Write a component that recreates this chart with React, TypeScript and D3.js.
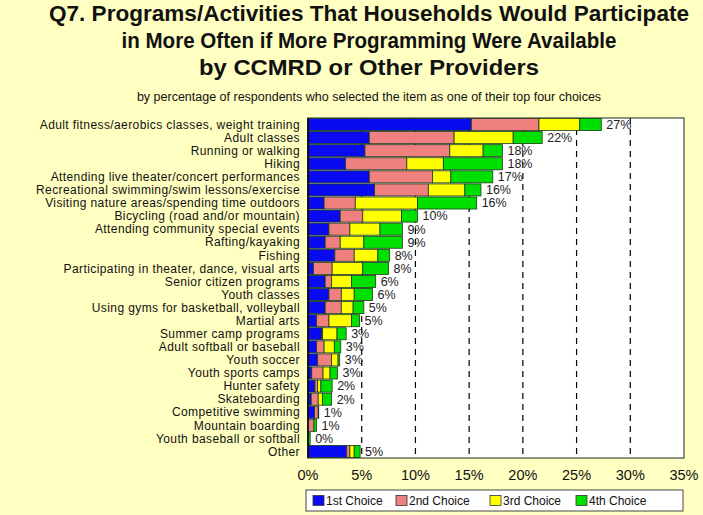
import React from "react";
import * as d3 from "d3";

const categories = [
  "Adult fitness/aerobics classes, weight training",
  "Adult classes",
  "Running or walking",
  "Hiking",
  "Attending live theater/concert performances",
  "Recreational swimming/swim lessons/exercise",
  "Visiting nature areas/spending time outdoors",
  "Bicycling (road and/or mountain)",
  "Attending community special events",
  "Rafting/kayaking",
  "Fishing",
  "Participating in theater, dance, visual arts",
  "Senior citizen programs",
  "Youth classes",
  "Using gyms for basketball, volleyball",
  "Martial arts",
  "Summer camp programs",
  "Adult softball or baseball",
  "Youth soccer",
  "Youth sports camps",
  "Hunter safety",
  "Skateboarding",
  "Competitive swimming",
  "Mountain boarding",
  "Youth baseball or softball",
  "Other",
];

const firstChoice = [15.2, 5.7, 5.3, 3.5, 5.7, 6.2, 1.5, 3.0, 1.95, 1.6, 2.5, 0.5, 1.6, 1.95, 1.6, 0.8, 1.3, 0.8, 0.9, 0.35, 0.65, 0.3, 0.6, 0, 0, 3.6];
const secondChoice = [6.3, 7.9, 7.9, 5.7, 5.9, 5.0, 2.9, 2.1, 1.95, 1.4, 1.8, 1.75, 0.6, 1.15, 1.5, 1.15, 0.05, 0.7, 1.3, 1.05, 0.25, 0.65, 0.35, 0.55, 0, 0.3];
const thirdChoice = [3.8, 5.5, 3.1, 3.4, 1.7, 3.4, 5.8, 3.6, 2.8, 2.2, 2.2, 2.85, 1.85, 1.2, 1.1, 2.1, 1.35, 0.95, 0.6, 0.65, 0.3, 0.4, 0, 0, 0, 0.4];
const fourthChoice = [2.0, 2.7, 1.8, 5.5, 3.9, 1.5, 5.5, 1.5, 2.1, 3.6, 1.1, 2.4, 2.25, 1.7, 1.0, 0.75, 0.85, 0.6, 0.15, 0.7, 1.05, 0.85, 0.05, 0.25, 0.2, 0.55];
const totalLabels = ["27%", "22%", "18%", "18%", "17%", "16%", "16%", "10%", "9%", "9%", "8%", "8%", "6%", "6%", "5%", "5%", "3%", "3%", "3%", "3%", "2%", "2%", "1%", "1%", "0%", "5%"];

const seriesNames = ["1st Choice", "2nd Choice", "3rd Choice", "4th Choice"];
const seriesColors = ["#0A0AF0", "#F08080", "#FFFF00", "#00E000"];
const xTicks = [0, 5, 10, 15, 20, 25, 30, 35];
const titleLines = [
  "Q7. Programs/Activities That Households Would Participate",
  "in More Often if More Programming Were Available",
  "by CCMRD or Other Providers",
];
const subtitle = "by percentage of respondents who selected the item as one of their top four choices";

const W = 703;
const H = 515;
const FONT = "'Liberation Sans', Arial, sans-serif";
const titleWidths = [640, 495, 340];

export default function App() {
  const left = 308;
  const right = 684;
  const top = 118;
  const bottom = 458;

  const x = d3.scaleLinear().domain([0, 35]).range([left, right]);
  const y = d3.scaleBand<string>().domain(categories).range([top, bottom]).paddingInner(0.08).paddingOuter(0.04);

  const rows = categories.map((c, i) => ({
    cat: c,
    s0: firstChoice[i],
    s1: secondChoice[i],
    s2: thirdChoice[i],
    s3: fourthChoice[i],
  }));
  const stack = d3.stack<any>().keys(["s0", "s1", "s2", "s3"]);
  const stacked = stack(rows);

  const legendItems = [
    { x: 313, tx: 326 },
    { x: 396, tx: 409 },
    { x: 490, tx: 503 },
    { x: 576, tx: 589 },
  ];

  return (
    <svg width={W} height={H} style={{ position: "absolute", left: 0, top: 0, display: "block" }} fontFamily={FONT}>
      <rect x={0} y={0} width={W} height={H} fill="#FFFFC2" />
      {titleLines.map((t, i) => (
        <text
          key={i}
          x={369}
          y={21 + i * 27}
          textAnchor="middle"
          fontSize={22.3}
          fontWeight="bold"
          fill="#111"
          textLength={titleWidths[i]}
          lengthAdjust="spacingAndGlyphs"
        >
          {t}
        </text>
      ))}
      <text x={369} y={101} textAnchor="middle" fontSize={12.5} fill="#111">
        {subtitle}
      </text>

      <rect x={left} y={top} width={right - left} height={bottom - top} fill="#fff" stroke="#222" strokeWidth={1} />
      {xTicks.slice(1, -1).map((t) => (
        <line key={t} x1={x(t)} x2={x(t)} y1={top} y2={bottom} stroke="#000" strokeWidth={1.2} strokeDasharray="6,5" />
      ))}

      {stacked.map((layer, k) => (
        <g key={k}>
          {layer.map((d: any, i: number) => {
            const w = x(d[1]) - x(d[0]);
            if (w <= 0) return null;
            return (
              <rect
                key={i}
                x={x(d[0])}
                y={y(categories[i])!}
                width={w}
                height={y.bandwidth()}
                fill={seriesColors[k]}
                stroke="#1a3a1a"
                strokeWidth={0.8}
              />
            );
          })}
        </g>
      ))}

      {categories.map((c, i) => {
        const total = firstChoice[i] + secondChoice[i] + thirdChoice[i] + fourthChoice[i];
        const cy = y(c)! + y.bandwidth() / 2;
        return (
          <g key={c}>
            <text x={300} y={cy} dy="0.35em" textAnchor="end" fontSize={12} letterSpacing={0.4} fill="#111">
              {c}
            </text>
            <text x={x(total) + 5} y={cy} dy="0.35em" fontSize={12.5} fill="#222">
              {totalLabels[i]}
            </text>
          </g>
        );
      })}

      <line x1={left} x2={left} y1={top} y2={bottom} stroke="#000" strokeWidth={1.5} />

      {xTicks.map((t) => (
        <text key={t} x={x(t)} y={475} dy="0.35em" textAnchor="middle" fontSize={14.5} fill="#111">
          {t}%
        </text>
      ))}

      <rect x={306} y={490} width={377} height={21} fill="#fff" stroke="#444" strokeWidth={1} />
      {seriesNames.map((n, i) => (
        <g key={n}>
          <rect x={legendItems[i].x} y={495.5} width={11} height={10} fill={seriesColors[i]} stroke="#333" strokeWidth={0.8} />
          <text x={legendItems[i].tx} y={500.5} dy="0.35em" fontSize={12} fill="#111">
            {n}
          </text>
        </g>
      ))}
    </svg>
  );
}
